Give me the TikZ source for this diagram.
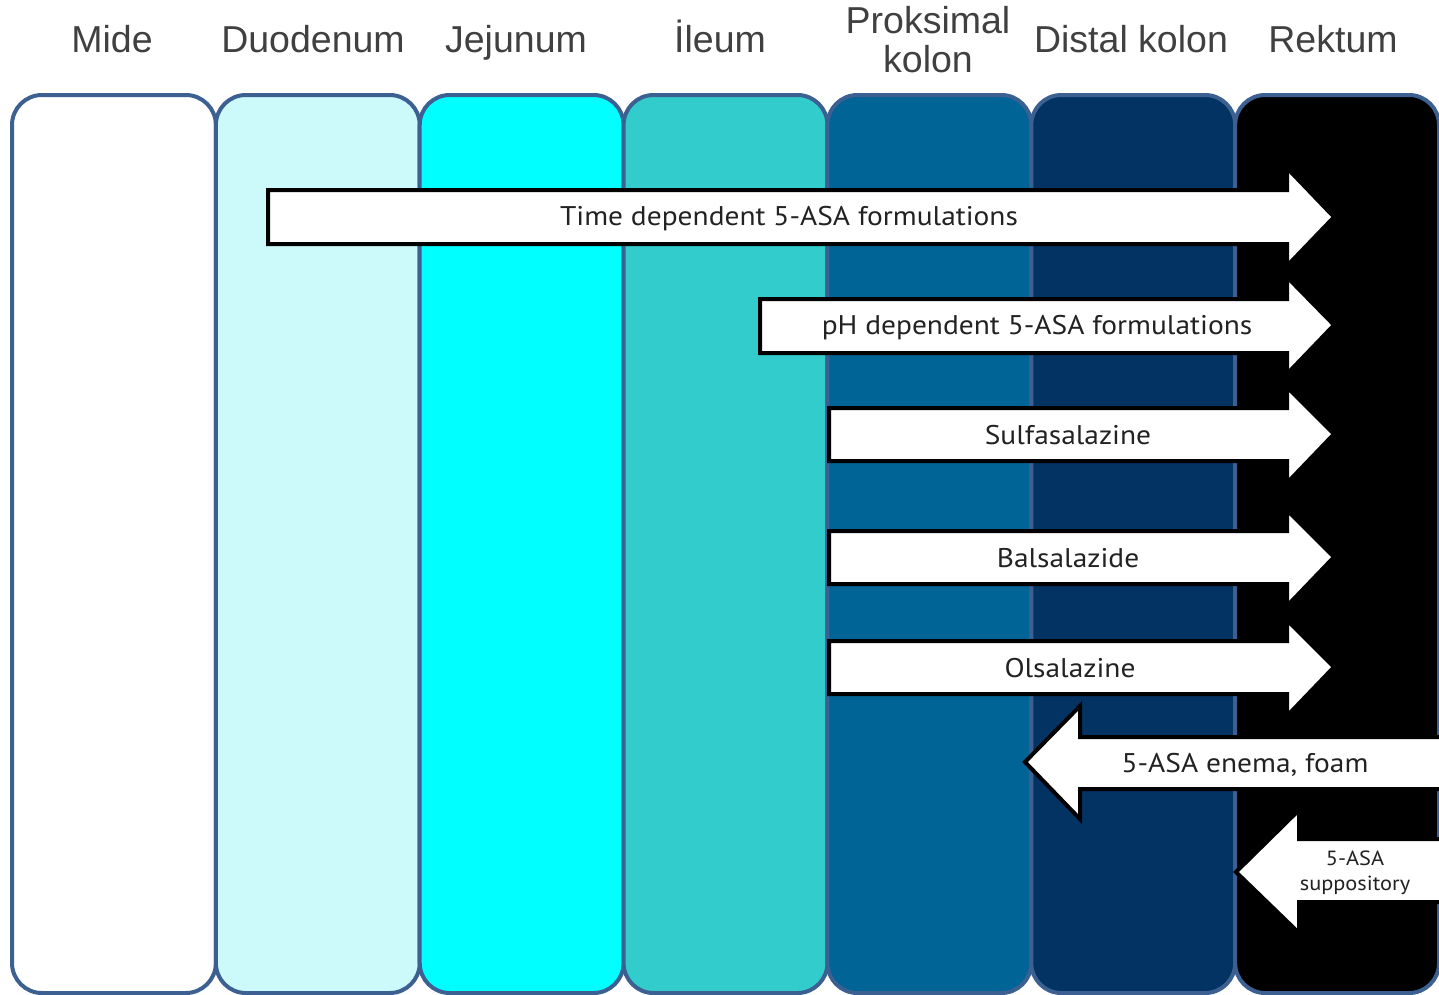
\documentclass[tikz,border=0pt]{standalone}
\usepackage{fontspec}
\setmainfont{Liberation Sans}
\newfontfamily\arrowfont{PT Sans}[FakeStretch=1.09]
\definecolor{colborder}{RGB}{60,96,145}
\definecolor{hdrgray}{RGB}{64,64,64}
\definecolor{txtdark}{RGB}{34,34,34}
\definecolor{cMide}{RGB}{255,255,255}
\definecolor{cDuo}{RGB}{204,250,250}
\definecolor{cJej}{RGB}{0,255,255}
\definecolor{cIle}{RGB}{51,204,204}
\definecolor{cProx}{RGB}{0,100,150}
\definecolor{cDist}{RGB}{3,51,98}
\definecolor{cRek}{RGB}{0,0,0}
\begin{document}
\begin{tikzpicture}[x=1pt,y=-1pt,
  colbox/.style={draw=colborder, line width=4pt, rounded corners=30pt,
    minimum width=203.86pt, minimum height=898pt, anchor=north west, inner sep=0pt},
  hdr/.style={font=\fontsize{37.5}{39}\selectfont, text=hdrgray, align=center, anchor=base, inner sep=0pt},
  arrowbox/.style={fill=white, draw=black, line width=4pt, line join=miter},
  lbl/.style={font=\arrowfont\fontsize{27}{30}\selectfont, text=txtdark, anchor=base, inner sep=0pt},
  slbl/.style={font=\arrowfont\fontsize{20.5}{25}\selectfont, text=txtdark, align=center, anchor=base, inner sep=0pt}]
\useasboundingbox (0,0) rectangle (1439,994);
% columns
\node[colbox, fill=cMide] (c1) at (10,93) {};
\node[colbox, fill=cDuo]  (c2) at (213.86,93) {};
\node[colbox, fill=cJej]  (c3) at (417.72,93) {};
\node[colbox, fill=cIle]  (c4) at (621.58,93) {};
\node[colbox, fill=cProx] (c5) at (825.44,93) {};
\node[colbox, fill=cDist] (c6) at (1029.30,93) {};
\node[colbox, fill=cRek]  (c7) at (1233.16,93) {};
% headers
\node[hdr] (h1) at (112,52) {Mide};
\node[hdr] (h2) at (313,52) {Duodenum};
\node[hdr] (h3) at (516,52) {Jejunum};
\node[hdr] (h4) at (720,52) {İleum};
\node[hdr] (h5) at (928,72) {Proksimal\\kolon};
\node[hdr] (h6) at (1131,52) {Distal kolon};
\node[hdr] (h7) at (1333,52) {Rektum};
% right-pointing arrows
\draw[arrowbox] (268,190) -- (1287,190) -- (1287,168) -- (1334,217) -- (1287,266) -- (1287,244) -- (268,244) -- cycle;
\draw[arrowbox] (760,299) -- (1287,299) -- (1287,277) -- (1334,325) -- (1287,374) -- (1287,353) -- (760,353) -- cycle;
\draw[arrowbox] (829,408) -- (1287,408) -- (1287,387) -- (1334,434) -- (1287,483) -- (1287,461) -- (829,461) -- cycle;
\draw[arrowbox] (829,531) -- (1287,531) -- (1287,510) -- (1334,557) -- (1287,606) -- (1287,584) -- (829,584) -- cycle;
\draw[arrowbox] (829,641) -- (1287,641) -- (1287,620) -- (1334,667) -- (1287,716) -- (1287,694) -- (829,694) -- cycle;
% left-pointing arrows
\draw[arrowbox] (1450,737) -- (1080,737) -- (1080,706) -- (1025,762) -- (1080,819) -- (1080,789) -- (1450,789) -- cycle;
\draw[arrowbox] (1450,839) -- (1299,839) -- (1299,810) -- (1236,872) -- (1299,933) -- (1299,902) -- (1450,902) -- cycle;
% labels
\node[lbl] (t1) at (789,225) {Time dependent 5-ASA formulations};
\node[lbl] (t2) at (1037,334) {pH dependent 5-ASA formulations};
\node[lbl] (t3) at (1068,444) {Sulfasalazine};
\node[lbl] (t4) at (1068,567) {Balsalazide};
\node[lbl] (t5) at (1070,677) {Olsalazine};
\node[lbl] (t6) at (1245,772) {5-ASA enema, foam};
\node[slbl] (t7) at (1355,890) {5-ASA\\suppository};
\end{tikzpicture}
\end{document}
